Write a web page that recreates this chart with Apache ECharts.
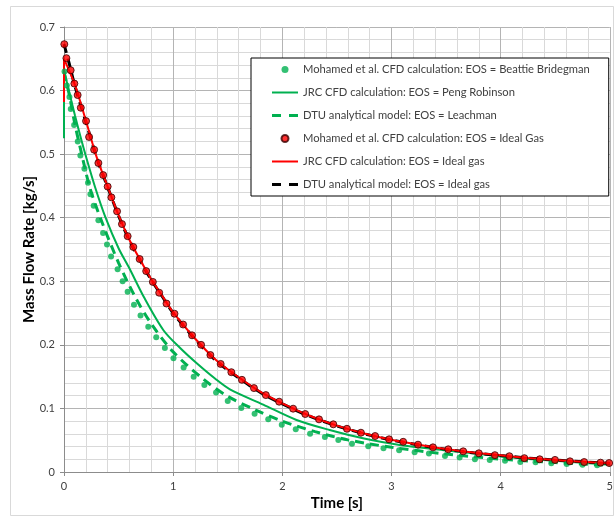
<!DOCTYPE html>
<html>
<head>
<meta charset="utf-8">
<script src="https://cdn.jsdelivr.net/npm/echarts@6/dist/echarts.min.js"></script>
<style>html,body{margin:0;padding:0;background:#fff}#c{width:616px;height:518px}</style>
</head>
<body>
<div id="c"></div>
<script>
// ---- data ----
var xTickLabels = ['0','1','2','3','4','5'];
var yTickLabels = ['0','0.1','0.2','0.3','0.4','0.5','0.6','0.7'];

var mohamedBB = [[0.005,0.630],[0.026,0.608],[0.05,0.590],[0.062,0.571],[0.093,0.546],[0.126,0.520],[0.150,0.498],[0.187,0.477],[0.220,0.455],[0.242,0.437],[0.272,0.419],[0.315,0.396],[0.358,0.376],[0.394,0.358],[0.431,0.339],[0.491,0.319],[0.537,0.300],[0.583,0.2835],[0.641,0.263],[0.701,0.246],[0.772,0.2285],[0.845,0.212],[0.924,0.195],[1.003,0.179],[1.096,0.1645],[1.188,0.150],[1.286,0.137],[1.393,0.125],[1.500,0.1116],[1.624,0.1006],[1.746,0.0917],[1.871,0.0828],[1.995,0.0744],[2.123,0.0671],[2.254,0.0602],[2.390,0.0550],[2.513,0.0503],[2.638,0.0445],[2.787,0.0404],[2.927,0.0373],[3.070,0.0343],[3.212,0.0310],[3.343,0.0290],[3.490,0.0252],[3.624,0.0230],[3.764,0.0200],[3.900,0.0190],[4.040,0.0178],[4.180,0.0157],[4.320,0.0152],[4.464,0.0137],[4.605,0.0126],[4.750,0.0115],[4.884,0.0105]];

var jrcPR = [[0,0.525],[0,0.632],[0.05,0.596],[0.10,0.561],[0.15,0.528],[0.20,0.497],[0.285,0.448],[0.379,0.401],[0.50,0.352],[0.60,0.320],[0.729,0.276],[0.911,0.223],[1.064,0.195],[1.216,0.171],[1.383,0.147],[1.52,0.130],[1.825,0.106],[2.13,0.0818],[2.434,0.066],[2.738,0.053],[3.073,0.0425],[3.5,0.034],[4.0,0.0245],[4.5,0.0175],[5.0,0.0115]];

var dtuLeachman = [[0,0.629],[0.05,0.592],[0.10,0.547],[0.15,0.509],[0.239,0.446],[0.35,0.392],[0.50,0.329],[0.65,0.276],[0.80,0.233],[1.0,0.189],[1.277,0.146],[1.5,0.119],[1.75,0.098],[2.0,0.080],[2.3,0.0635],[2.6,0.0505],[3.0,0.0389],[3.5,0.0283],[4.0,0.0203],[4.5,0.0149],[5.0,0.0105]];

var mohamedIG = [[0.003,0.673],[0.022,0.651],[0.061,0.632],[0.095,0.611],[0.125,0.593],[0.154,0.573],[0.202,0.552],[0.230,0.527],[0.276,0.507],[0.315,0.486],[0.359,0.467],[0.400,0.449],[0.434,0.432],[0.486,0.410],[0.531,0.390],[0.583,0.371],[0.635,0.354],[0.693,0.335],[0.753,0.316],[0.814,0.299],[0.872,0.282],[0.939,0.265],[1.012,0.249],[1.091,0.232],[1.173,0.215],[1.256,0.200],[1.341,0.184],[1.435,0.170],[1.533,0.157],[1.630,0.145],[1.740,0.132],[1.849,0.121],[1.971,0.1106],[2.099,0.0996],[2.210,0.0912],[2.336,0.0828],[2.467,0.075],[2.592,0.068],[2.720,0.0618],[2.850,0.0566],[2.978,0.0514],[3.107,0.0475],[3.243,0.043],[3.380,0.0388],[3.520,0.0357],[3.657,0.0325],[3.800,0.0294],[3.947,0.0265],[4.080,0.0248],[4.217,0.0218],[4.358,0.0200],[4.498,0.0190],[4.635,0.0168],[4.765,0.0157],[4.915,0.0147],[4.994,0.0141]];

var jrcIG = [[0,0.582],[0,0.650],[0.1,0.609],[0.2,0.553],[0.3,0.495],[0.4,0.449],[0.5,0.404],[0.6,0.365],[0.7,0.333],[0.8,0.303],[0.9,0.277],[1.0,0.251],[1.2,0.210],[1.4,0.175],[1.6,0.149],[1.8,0.126],[2.0,0.108],[2.25,0.0885],[2.5,0.073],[2.75,0.0606],[3.0,0.0506],[3.25,0.0429],[3.5,0.0361],[3.75,0.0305],[4.0,0.0262],[4.25,0.0222],[4.5,0.0188],[4.75,0.0160],[5.0,0.0140]];

var dtuIG = [[0,0.673],[0.05,0.641],[0.1,0.607],[0.2,0.551],[0.3,0.494],[0.4,0.448],[0.5,0.403],[0.6,0.364],[0.7,0.332],[0.8,0.302],[0.9,0.276],[1.0,0.250],[1.2,0.209],[1.4,0.174],[1.6,0.148],[1.8,0.125],[2.0,0.107],[2.25,0.0878],[2.5,0.0725],[2.75,0.0602],[3.0,0.0503],[3.25,0.0425],[3.5,0.0358],[3.75,0.0302],[4.0,0.0258],[4.25,0.0220],[4.5,0.0188],[4.75,0.0160],[5.0,0.0138]];

var names = [
  'Mohamed et al. CFD calculation: EOS = Beattie Bridegman',
  'JRC CFD calculation: EOS = Peng Robinson',
  'DTU analytical model: EOS = Leachman',
  'Mohamed et al. CFD calculation: EOS = Ideal Gas',
  'JRC CFD calculation: EOS = Ideal gas',
  'DTU analytical model: EOS = Ideal gas'
];

var GREEN = '#00b050', RED = '#ff0000';
var FONT = 'Lato, "Open Sans", sans-serif';
var SOLID_ICON = 'path://M0,0H26V2H0Z';
var DASH_ICON = 'path://M0,0H9V3H0ZM17,0H26V3H17Z';

var chart = echarts.init(document.getElementById('c'), null, {renderer:'canvas'});
chart.setOption({
  animation: false,
  backgroundColor: '#fff',
  textStyle: {fontFamily: FONT},
  graphic: [{
    type: 'rect', silent: true, z: -10,
    shape: {x: 10.5, y: 6.5, width: 603, height: 509},
    style: {fill: 'none', stroke: '#d9d9d9', lineWidth: 1}
  }],
  grid: {left: 64, right: 5, top: 27, bottom: 46, containLabel: false},
  legend: {
    orient: 'vertical', left: 251, top: 58,
    padding: [6, 19, 6, 21],
    itemGap: 12, itemWidth: 26, itemHeight: 7,
    borderColor: '#000', borderWidth: 1, backgroundColor: '#fff',
    textStyle: {fontFamily: FONT, fontSize: 11.2, color: '#404040'},
    data: [
      {name: names[0]},
      {name: names[1], icon: SOLID_ICON, itemStyle: {color: GREEN, borderWidth: 0}},
      {name: names[2], icon: DASH_ICON, itemStyle: {color: GREEN, borderWidth: 0}},
      {name: names[3]},
      {name: names[4], icon: SOLID_ICON, itemStyle: {color: RED, borderWidth: 0}},
      {name: names[5], icon: DASH_ICON, itemStyle: {color: '#000', borderWidth: 0}}
    ]
  },
  xAxis: {
    type: 'value', min: 0, max: 5, interval: 1,
    name: 'Time [s]', nameLocation: 'middle', nameGap: 24, nameMoveOverlap: false,
    nameTextStyle: {fontFamily: FONT, fontSize: 15, fontWeight: 'bold', color: '#000'},
    axisLine: {lineStyle: {color: '#8c8c8c'}},
    axisTick: {show: true, length: 4, lineStyle: {color: '#8c8c8c'}},
    axisLabel: {margin: 9, fontSize: 11, color: '#404040', fontFamily: FONT,
      formatter: function(v){ return xTickLabels[Math.round(v)]; }},
    splitLine: {show: true, lineStyle: {color: '#b4b4b4', width: 1}},
    minorTick: {show: true, splitNumber: 5, length: 0},
    minorSplitLine: {show: true, lineStyle: {color: '#d9d9d9', width: 1}}
  },
  yAxis: {
    type: 'value', min: 0, max: 0.7, interval: 0.1,
    name: 'Mass Flow Rate [kg/s]', nameLocation: 'middle', nameGap: 27, nameMoveOverlap: false,
    nameTextStyle: {fontFamily: FONT, fontSize: 15, fontWeight: 'bold', color: '#000'},
    axisLine: {show: true, lineStyle: {color: '#8c8c8c'}},
    axisTick: {show: true, length: 4, lineStyle: {color: '#8c8c8c'}},
    axisLabel: {margin: 9, fontSize: 11, color: '#404040', fontFamily: FONT,
      formatter: function(v){ return yTickLabels[Math.round(v*10)]; }},
    splitLine: {show: true, lineStyle: {color: '#b4b4b4', width: 1}},
    minorTick: {show: true, splitNumber: 5, length: 0},
    minorSplitLine: {show: true, lineStyle: {color: '#d9d9d9', width: 1}}
  },
  series: [
    {name: names[0], type: 'scatter', data: mohamedBB, symbol: 'circle', symbolSize: 6,
     itemStyle: {color: GREEN}, z: 6},
    {name: names[1], type: 'line', data: jrcPR, symbol: 'none', smooth: 0.3,
     lineStyle: {color: GREEN, width: 2}, itemStyle: {color: GREEN}, z: 3},
    {name: names[2], type: 'line', data: dtuLeachman, symbol: 'none', smooth: 0.3,
     lineStyle: {color: GREEN, width: 3, type: [9, 6]}, itemStyle: {color: GREEN}, z: 4},
    {name: names[3], type: 'scatter', data: mohamedIG, symbol: 'circle', symbolSize: 7,
     itemStyle: {color: RED, borderColor: '#3a0000', borderWidth: 1}, z: 8},
    {name: names[4], type: 'line', data: jrcIG, symbol: 'none', smooth: 0.3,
     lineStyle: {color: RED, width: 2}, itemStyle: {color: RED}, z: 6},
    {name: names[5], type: 'line', data: dtuIG, symbol: 'none', smooth: 0.3,
     lineStyle: {color: '#000', width: 3, type: [9, 6]}, itemStyle: {color: '#000'}, z: 5}
  ]
});
</script>
</body>
</html>
